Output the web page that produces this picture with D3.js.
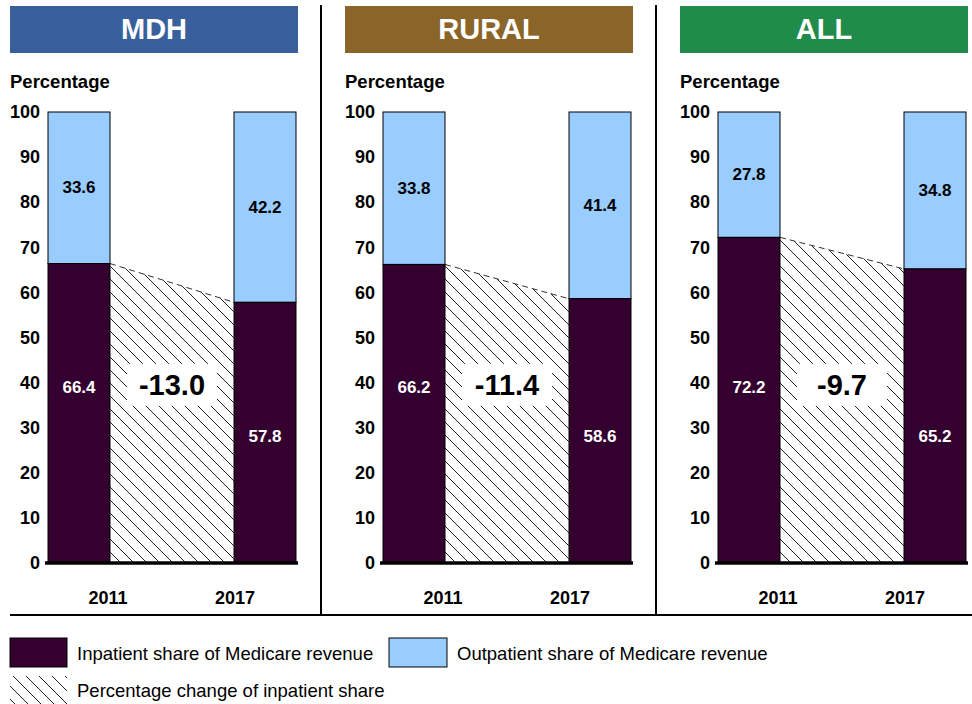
<!DOCTYPE html>
<html>
<head>
<meta charset="utf-8">
<script src="https://cdn.jsdelivr.net/npm/d3@7"></script>
<style>
  html, body { margin: 0; padding: 0; background: #fff; }
  svg { display: block; font-family: "Liberation Sans", Arial, sans-serif; }
</style>
</head>
<body>
<svg id="chart" width="972" height="704"></svg>
<script>
// ---- data ----
const groups = ["MDH", "RURAL", "ALL"];
const years = ["2011", "2017"];
const inpatient = [[66.4, 57.8], [66.2, 58.6], [72.2, 65.2]];
const outpatient = [[33.6, 42.2], [33.8, 41.4], [27.8, 34.8]];
const pctChange = [-13.0, -11.4, -9.7];
const yTicks = [0, 10, 20, 30, 40, 50, 60, 70, 80, 90, 100];
const legendLabels = ["Inpatient share of Medicare revenue", "Outpatient share of Medicare revenue", "Percentage change of inpatient share"];

// ---- styles ----
const headerColors = ["#3A5F9D", "#8A6428", "#218B4B"];
const darkColor = "#33002F";
const lightColor = "#99CCFF";

const svg = d3.select("#chart");
const defs = svg.append("defs");
const pat = defs.append("pattern")
  .attr("id", "hatch").attr("patternUnits", "userSpaceOnUse")
  .attr("width", 13).attr("height", 13);
pat.append("rect").attr("width", 13).attr("height", 13).attr("fill", "#fff");
pat.append("path").attr("d", "M-3,-3 L16,16 M-3,10 L3,16 M10,-3 L16,3")
  .attr("stroke", "#222").attr("stroke-width", 1);

const y = d3.scaleLinear().domain([0, 100]).range([563, 112]);
const panelOffsets = [0, 335, 670];

// dividers
svg.append("line").attr("x1", 321).attr("x2", 321).attr("y1", 5).attr("y2", 615).attr("stroke", "#000").attr("stroke-width", 2);
svg.append("line").attr("x1", 656).attr("x2", 656).attr("y1", 5).attr("y2", 615).attr("stroke", "#000").attr("stroke-width", 2);
svg.append("line").attr("x1", 10).attr("x2", 972).attr("y1", 615).attr("y2", 615).attr("stroke", "#000").attr("stroke-width", 2);

groups.forEach((g, gi) => {
  const ox = panelOffsets[gi];
  const p = svg.append("g").attr("transform", `translate(${ox},0)`);

  // header
  p.append("rect").attr("x", 10).attr("y", 6).attr("width", 288).attr("height", 47).attr("fill", headerColors[gi]);
  p.append("text").attr("x", 154).attr("y", 29).attr("text-anchor", "middle").attr("dominant-baseline", "central")
    .attr("fill", "#fff").attr("font-weight", "bold").attr("font-size", 29).text(g);

  p.append("text").attr("x", 10).attr("y", 88).attr("font-weight", "bold").attr("font-size", 18.5).text("Percentage");

  const x = d3.scaleBand().domain(years).range([48, 296]).paddingInner(2 / 3).paddingOuter(0);
  const bw = x.bandwidth();

  // y axis (labels only)
  const yAxis = d3.axisLeft(y).tickValues(yTicks).tickSize(0).tickPadding(0).tickFormat(d3.format("d"));
  const ya = p.append("g").attr("transform", "translate(40,0)").call(yAxis);
  ya.select(".domain").remove();
  ya.selectAll("text").attr("font-size", 18).attr("font-weight", "bold").attr("fill", "#000")
    .attr("font-family", "Liberation Sans, Arial, sans-serif");

  // hatched area
  const x1 = x(years[0]) + bw, x2 = x(years[1]);
  const v1 = inpatient[gi][0], v2 = inpatient[gi][1];
  p.append("path")
    .attr("d", `M${x1},${y(v1)} L${x2},${y(v2)} L${x2},${y(0)} L${x1},${y(0)} Z`)
    .attr("fill", "url(#hatch)");
  p.append("line").attr("x1", x1).attr("y1", y(v1)).attr("x2", x2).attr("y2", y(v2))
    .attr("stroke", "#333").attr("stroke-width", 1).attr("stroke-dasharray", "6,4");

  // bars
  years.forEach((yr, yi) => {
    const inV = inpatient[gi][yi], outV = outpatient[gi][yi];
    p.append("rect").attr("x", x(yr)).attr("y", y(inV + outV)).attr("width", bw).attr("height", y(inV) - y(inV + outV))
      .attr("fill", lightColor).attr("stroke", "#000").attr("stroke-width", 1);
    p.append("rect").attr("x", x(yr)).attr("y", y(inV)).attr("width", bw).attr("height", y(0) - y(inV))
      .attr("fill", darkColor).attr("stroke", "#000").attr("stroke-width", 1);
    // labels
    p.append("text").attr("x", x(yr) + bw / 2).attr("y", y(inV + outV / 2)).attr("text-anchor", "middle")
      .attr("dominant-baseline", "central").attr("font-weight", "bold").attr("font-size", 17).attr("fill", "#000")
      .text(d3.format(".1f")(outV));
    const inLabelY = yi === 0 ? y(39) : y(28);
    p.append("text").attr("x", x(yr) + bw / 2).attr("y", inLabelY).attr("text-anchor", "middle")
      .attr("dominant-baseline", "central").attr("font-weight", "bold").attr("font-size", 17).attr("fill", "#fff")
      .text(d3.format(".1f")(inV));
    // year
    const yrX = x(yr) + bw / 2 + (yi === 0 ? 29 : -30);
    p.append("text").attr("x", yrX).attr("y", 598).attr("text-anchor", "middle")
      .attr("dominant-baseline", "central").attr("font-weight", "bold").attr("font-size", 18).text(yr);
  });

  // baseline
  p.append("line").attr("x1", 45).attr("x2", 298).attr("y1", y(0)).attr("y2", y(0)).attr("stroke", "#000").attr("stroke-width", 3.5);

  // change label
  const cx = (x1 + x2) / 2, cy = y(39.5);
  p.append("rect").attr("x", cx - 45).attr("y", cy - 21).attr("width", 90).attr("height", 42).attr("fill", "#fff");
  p.append("text").attr("x", cx).attr("y", cy).attr("text-anchor", "middle").attr("dominant-baseline", "central")
    .attr("font-weight", "bold").attr("font-size", 29).text(d3.format(".1f")(pctChange[gi]).replace("−", "-"));
});

// legend
const lg = svg.append("g");
lg.append("rect").attr("x", 10).attr("y", 638).attr("width", 57).attr("height", 29).attr("fill", darkColor).attr("stroke", "#000");
lg.append("text").attr("x", 77).attr("y", 653).attr("dominant-baseline", "central").attr("font-size", 18.5).text(legendLabels[0]);
lg.append("rect").attr("x", 389).attr("y", 638).attr("width", 58).attr("height", 29).attr("fill", lightColor).attr("stroke", "#000");
lg.append("text").attr("x", 457).attr("y", 653).attr("dominant-baseline", "central").attr("font-size", 18.5).text(legendLabels[1]);
lg.append("rect").attr("x", 10).attr("y", 676).attr("width", 57).attr("height", 30).attr("fill", "url(#hatch)");
lg.append("text").attr("x", 77).attr("y", 690).attr("dominant-baseline", "central").attr("font-size", 18.5).text(legendLabels[2]);
</script>
</body>
</html>
